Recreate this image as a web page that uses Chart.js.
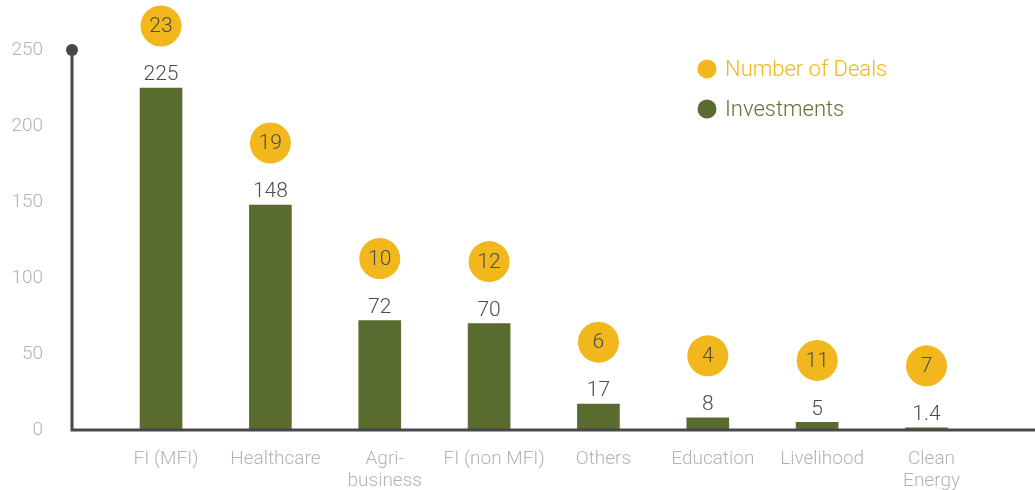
<!DOCTYPE html>
<html>
<head>
<meta charset="utf-8">
<script src="https://cdn.jsdelivr.net/npm/chart.js@4"></script>
<style>
html,body{margin:0;padding:0;background:#fff;}
#wrap{width:1035px;height:490px;}
</style>
</head>
<body>
<div id="wrap"><canvas id="c" width="1035" height="490"></canvas></div>
<script>
const categories = ['FI (MFI)', 'Healthcare', ['Agri-', 'business'], 'FI (non MFI)', 'Others', 'Education', 'Livelihood', ['Clean', 'Energy']];
const investments = [225, 148, 72, 70, 17, 8, 5, 1.4];
const investmentLabels = ['225', '148', '72', '70', '17', '8', '5', '1.4'];
const deals = [23, 19, 10, 12, 6, 4, 11, 7];
const yTicks = [0, 50, 100, 150, 200, 250];

const GREEN = '#5a6b2f';
const YELLOW = '#f2b71c';
const AXIS = '#4b474b';
const GREY = '#b3b3b3';
const DARK = '#4d4d4d';
const FONT = 'Roboto, "Open Sans", sans-serif';

const overlay = {
  id: 'overlay',
  afterDatasetsDraw(chart) {
    const ctx = chart.ctx;
    const area = chart.chartArea;
    const yS = chart.scales.y;
    const y0 = yS.getPixelForValue(0);
    const yTop = yS.getPixelForValue(yTicks[yTicks.length - 1]);
    ctx.save();
    // axes
    ctx.strokeStyle = AXIS;
    ctx.lineWidth = 3;
    ctx.beginPath();
    ctx.moveTo(area.left, yTop);
    ctx.lineTo(area.left, y0);
    ctx.lineTo(area.right, y0);
    ctx.stroke();
    ctx.fillStyle = AXIS;
    ctx.beginPath();
    ctx.arc(area.left, yTop, 6, 0, Math.PI * 2);
    ctx.fill();

    // value labels and deal circles
    const meta = chart.getDatasetMeta(0);
    ctx.textAlign = 'center';
    ctx.textBaseline = 'middle';
    meta.data.forEach((bar, i) => {
      ctx.font = '300 21px ' + FONT;
      ctx.fillStyle = DARK;
      ctx.fillText(investmentLabels[i], bar.x, bar.y - 13);
      ctx.fillStyle = YELLOW;
      ctx.beginPath();
      ctx.arc(bar.x, bar.y - 62, 20.5, 0, Math.PI * 2);
      ctx.fill();
      ctx.fillStyle = DARK;
      ctx.fillText(String(deals[i]), bar.x, bar.y - 61);
    });

    // legend
    const lx = 707;
    const items = [['Number of Deals', YELLOW, YELLOW, 69], ['Investments', GREEN, '#627239', 109]];
    ctx.textAlign = 'left';
    items.forEach(([txt, dot, col, ly]) => {
      ctx.fillStyle = dot;
      ctx.beginPath();
      ctx.arc(lx, ly, 9.5, 0, Math.PI * 2);
      ctx.fill();
      ctx.fillStyle = col;
      ctx.font = '300 22px ' + FONT;
      ctx.fillText(txt, lx + 18, ly + 1);
    });
    ctx.restore();
  }
};

new Chart(document.getElementById('c'), {
  type: 'bar',
  data: {
    datasets: [{
      label: 'Investments',
      data: investments.map((v, i) => ({ x: i, y: v })),
      backgroundColor: GREEN,
      borderWidth: 0,
      barThickness: 42
    }]
  },
  options: {
    responsive: false,
    devicePixelRatio: 1,
    animation: false,
    layout: { padding: { top: 50, right: 0, bottom: 0, left: 0 } },
    plugins: { legend: { display: false }, tooltip: { enabled: false } },
    scales: {
      x: {
        type: 'linear',
        offset: false,
        min: -0.814,
        max: 7.992,
        afterBuildTicks: (s) => { s.ticks = categories.map((_, i) => ({ value: i })); },
        afterFit: (s) => { s.height = 60; },
        grid: { display: false, drawTicks: false, offset: false },
        border: { display: false },
        ticks: {
          autoSkip: false,
          maxRotation: 0,
          padding: 18,
          labelOffset: 5,
          color: GREY,
          font: { family: FONT, size: 19, weight: 300, lineHeight: 1.16 },
          callback: (v, idx) => categories[idx]
        }
      },
      y: {
        min: 0,
        max: 250,
        afterBuildTicks: (s) => { s.ticks = yTicks.map(v => ({ value: v })); },
        afterFit: (s) => { s.width = 72; },
        grid: { display: false, drawTicks: false },
        border: { display: false },
        ticks: {
          padding: 29,
          color: GREY,
          font: { family: FONT, size: 19, weight: 300 },
          callback: (v) => String(v)
        }
      }
    }
  },
  plugins: [overlay]
});
</script>
</body>
</html>
